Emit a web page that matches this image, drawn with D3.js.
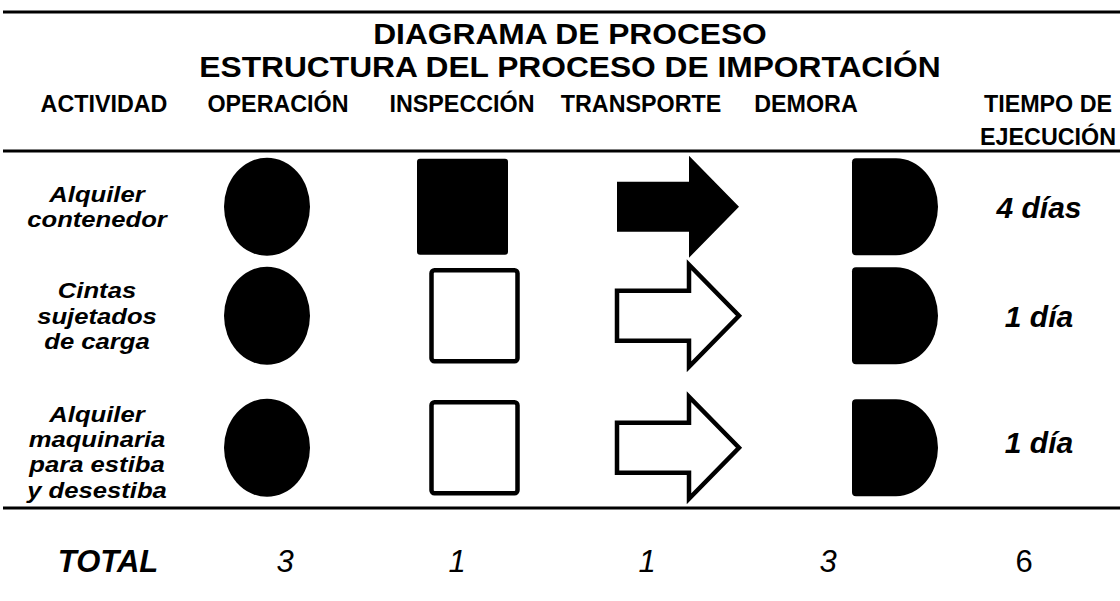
<!DOCTYPE html>
<html><head><meta charset="utf-8">
<script src="https://cdn.jsdelivr.net/npm/d3@7"></script>
<style>html,body{margin:0;padding:0;background:#fff}svg{display:block}</style>
</head><body>
<script>
// ---- data ----
const titleLines = ["DIAGRAMA DE PROCESO", "ESTRUCTURA DEL PROCESO DE IMPORTACIÓN"];
const columns = ["ACTIVIDAD", "OPERACIÓN", "INSPECCIÓN", "TRANSPORTE", "DEMORA", "TIEMPO"];
const headerLabels = [["ACTIVIDAD"], ["OPERACIÓN"], ["INSPECCIÓN"], ["TRANSPORTE"], ["DEMORA"], ["TIEMPO DE", "EJECUCIÓN"]];
const activities = [["Alquiler", "contenedor"], ["Cintas", "sujetados", "de carga"], ["Alquiler", "maquinaria", "para estiba", "y desestiba"]];
const operacion = [1, 1, 1];   // 1 = filled symbol, 0 = outline symbol
const inspeccion = [1, 0, 0];
const transporte = [1, 0, 0];
const demora = [1, 1, 1];
const tiempos = ["4 días", "1 día", "1 día"];
const totalLabel = "TOTAL";
const totals = ["3", "1", "1", "3", "6"];

// ---- layout ----
const W = 1120, H = 601;
const svg = d3.select("body").append("svg").attr("width", W).attr("height", H);
const FONT = "Liberation Sans, Arial, Helvetica, sans-serif";

const headerX = d3.scaleOrdinal().domain(columns).range([104, 278, 462, 641, 806, 1048]);
const markX = d3.scaleOrdinal().domain(columns).range([97, 267, 469, 678, 895, 1039]);
const totalX = d3.scaleOrdinal().domain(columns).range([108, 285, 457, 647, 828, 1024]);

// rows: height grows with number of label lines
const lineCounts = activities.map(a => a.length);
const cum = [0]; lineCounts.forEach((n, i) => cum.push(cum[i] + n));
const rowUnit = d3.scaleLinear().domain([0, 1]).range([0, 23]);
const rowBase = 51.5;
const rowY = i => 158 + rowBase * i + rowUnit(cum[i]) + (rowBase + rowUnit(lineCounts[i])) / 2;
const labelNudge = [0, 0, 4];

// rules
const rules = [12, 151, 508];
svg.selectAll("line.rule").data(rules).join("line").attr("class", "rule")
  .attr("x1", 3).attr("x2", W).attr("y1", d => d).attr("y2", d => d)
  .attr("stroke", "#000").attr("stroke-width", 3);

// title
svg.selectAll("text.title").data(titleLines).join("text").attr("class", "title")
  .attr("transform", (d, i) => `translate(570,${43.5 + i * 33.6}) scale(1.065,1)`)
  .attr("text-anchor", "middle").attr("font-family", FONT).attr("font-weight", "bold")
  .attr("font-size", 29.8).text(d => d);

// header
headerLabels.forEach((lines, ci) => {
  svg.append("g").selectAll("text").data(lines).join("text")
    .attr("x", headerX(columns[ci])).attr("y", (d, i) => 112 + i * 33)
    .attr("text-anchor", "middle").attr("font-family", FONT).attr("font-weight", "bold")
    .attr("font-size", 23.3).text(d => d);
});

// activity labels
activities.forEach((lines, ri) => {
  const cy = rowY(ri) + labelNudge[ri];
  const lh = 25.3;
  svg.append("g").selectAll("text").data(lines).join("text")
    .attr("transform", (d, i) => `translate(${markX("ACTIVIDAD")},${cy + (i - (lines.length - 1) / 2) * lh + 8}) scale(1.14,1)`)
    .attr("text-anchor", "middle").attr("font-family", FONT).attr("font-weight", "bold")
    .attr("font-style", "italic").attr("font-size", 22.5).text(d => d);
});

// symbols
const g = svg.append("g");
// operation: ellipse
g.selectAll("ellipse.op").data(operacion).join("ellipse").attr("class", "op")
  .attr("cx", markX("OPERACIÓN")).attr("cy", (d, i) => rowY(i))
  .attr("rx", 43).attr("ry", 49)
  .attr("fill", d => d ? "#000" : "#fff").attr("stroke", "#000").attr("stroke-width", d => d ? 0 : 4.5);

// inspection: square (filled ones sit a little to the left, as in the source)
g.selectAll("rect.insp").data(inspeccion).join("rect").attr("class", "insp")
  .attr("x", d => markX("INSPECCIÓN") + (d ? -52 : -37.5))
  .attr("y", (d, i) => rowY(i) - (d ? 48 : 45.5))
  .attr("width", d => d ? 91 : 86).attr("height", d => d ? 96 : 91)
  .attr("rx", 3)
  .attr("fill", d => d ? "#000" : "#fff").attr("stroke", "#000").attr("stroke-width", d => d ? 0 : 4.5);

// transport: arrow
const arrowPath = (cx, cy) => {
  const p = d3.path();
  p.moveTo(cx - 61, cy - 25);
  p.lineTo(cx + 11, cy - 25);
  p.lineTo(cx + 11, cy - 51);
  p.lineTo(cx + 61, cy);
  p.lineTo(cx + 11, cy + 51);
  p.lineTo(cx + 11, cy + 25);
  p.lineTo(cx - 61, cy + 25);
  p.closePath();
  return p.toString();
};
g.selectAll("path.tr").data(transporte).join("path").attr("class", "tr")
  .attr("d", (d, i) => arrowPath(markX("TRANSPORTE"), rowY(i)))
  .attr("fill", d => d ? "#000" : "#fff").attr("stroke", "#000")
  .attr("stroke-width", d => d ? 0 : 4.5).attr("stroke-linejoin", "miter");

// delay: D shape
const dPath = (cx, cy) => {
  const l = cx - 43, m = cx + 1, hh = 48.5, r = 4, rx = 42;
  const p = d3.path();
  p.moveTo(l + r, cy - hh);
  p.lineTo(m, cy - hh);
  return p.toString() + `A${rx},${hh} 0 0 1 ${m},${cy + hh}` +
    `L${l + r},${cy + hh}Q${l},${cy + hh} ${l},${cy + hh - r}L${l},${cy - hh + r}Q${l},${cy - hh} ${l + r},${cy - hh}Z`;
};
g.selectAll("path.dem").data(demora).join("path").attr("class", "dem")
  .attr("d", (d, i) => dPath(markX("DEMORA"), rowY(i)))
  .attr("fill", d => d ? "#000" : "#fff").attr("stroke", "#000").attr("stroke-width", d => d ? 0 : 4.5);

// times
svg.selectAll("text.time").data(tiempos).join("text").attr("class", "time")
  .attr("x", markX("TIEMPO")).attr("y", (d, i) => rowY(i) + 11 - (i === 2 ? 6 : 0))
  .attr("text-anchor", "middle").attr("font-family", FONT).attr("font-weight", "bold")
  .attr("font-style", "italic").attr("font-size", 30).text(d => d);

// totals
svg.append("text").attr("x", totalX("ACTIVIDAD")).attr("y", 572)
  .attr("text-anchor", "middle").attr("font-family", FONT).attr("font-weight", "bold")
  .attr("font-style", "italic").attr("font-size", 31).text(totalLabel);
svg.selectAll("text.tot").data(totals).join("text").attr("class", "tot")
  .attr("x", (d, i) => totalX(columns[i + 1])).attr("y", 572)
  .attr("text-anchor", "middle").attr("font-family", FONT)
  .attr("font-style", (d, i) => i === totals.length - 1 ? "normal" : "italic")
  .attr("font-size", 31).text(d => d);
</script>
</body></html>
